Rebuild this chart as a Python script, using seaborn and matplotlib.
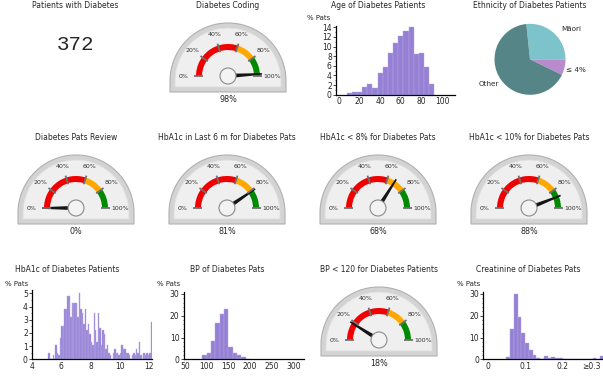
import numpy as np
import pandas as pd
import matplotlib
matplotlib.use('Agg')
import matplotlib.pyplot as plt
from matplotlib.patches import Wedge, Polygon, Circle
from matplotlib.ticker import MultipleLocator
import seaborn as sns

sns.set_style('ticks')
plt.rcParams['font.family'] = ['DejaVu Sans']

W, H = 603, 388

# ---- data ----
n_patients = 372

gauge_titles = ['Diabetes Coding', 'Diabetes Pats Review', 'HbA1c in Last 6 m for Diabetes Pats',
                'HbA1c < 8% for Diabetes Pats', 'HbA1c < 10% for Diabetes Pats',
                'BP < 120 for Diabetes Patients']
gauge_values = [98, 0, 81, 68, 88, 18]
gauge_ticks = [0, 20, 40, 60, 80, 100]

age_start, age_width = 7.5, 5
age_pct = [0.3, 0.6, 0.6, 1.6, 2.2, 1.3, 4.6, 5.7, 8.7, 10.8, 12.2, 13.2, 14.0, 8.5, 8.7, 5.7, 2.2]

hba1c_start, hba1c_width = 5.1, 0.1
hba1c_pct = [0.5, 0, 0, 0.3, 0, 1.1, 0.5, 0.3, 1.6, 2.5,
             2.5, 3.8, 3.8, 4.8, 4.8, 3.2, 4.3, 4.3, 4.3, 4.3,
             3.2, 5.0, 3.8, 3.5, 2.7, 3.8, 2.2, 2.7, 1.9, 1.3,
             1.1, 3.5, 2.2, 1.3, 3.5, 2.4, 1.1, 2.2, 1.9, 0.8,
             1.1, 0.5, 0.3, 0, 0.5, 0.8, 0.5, 0.5, 0.3, 0.5,
             1.1, 0.8, 0.8, 0.5, 0.5, 0.3, 0, 0.3, 0.5, 0.3,
             0.8, 0.5, 1.3, 0.3, 0, 0.5, 0.3, 0.5, 0.3, 0.5, 2.8]

bp_start, bp_width = 90, 10
bp_pct = [1.8, 3.0, 8.3, 16.8, 20.6, 23.0, 5.7, 3.0, 2.1, 1.0, 0.3]

creat_start, creat_width = 0.05, 0.01
creat_pct = [1.0, 14.0, 30.0, 19.4, 12.3, 7.7, 4.2, 1.8, 0.6, 0.3, 1.5, 0.5, 1.1, 0.8,
             0.8, 0, 0, 0, 0, 0, 0, 0, 0, 0.8, 0, 1.6]

eth_labels = ['Māori', '≤ 4%', 'Other']
eth_pct = [26.7, 7.2, 66.1]
eth_colors = ['#7dc3cb', '#b98bcc', '#558587']

bar_color = '#9580d4'

fig = plt.figure(figsize=(W / 100, H / 100), dpi=100)
fig.patch.set_facecolor('white')

# overlay axes in pixel units (y up)
bg = fig.add_axes([0, 0, 1, 1])
bg.set_xlim(0, W)
bg.set_ylim(0, H)
bg.axis('off')


def txt(x, y, s, size=5.5, **kw):
    bg.text(x, H - y, s, fontsize=size, ha=kw.pop('ha', 'center'), va=kw.pop('va', 'center'), **kw)


def dial(cx, yc, r, dy, below):
    th = np.linspace(0, np.pi, 80)
    pts = list(zip(cx + r * np.cos(th), yc - dy + r * np.sin(th)))
    pts += [(cx - r, yc - below), (cx + r, yc - below)]
    return pts


def gauge(cx, cy, value, title):
    yc = H - cy
    bg.add_patch(Polygon(dial(cx, yc, 58, 5, 16), closed=True, fc='#d3d3d3', ec='#b0b0b0', lw=0.8))
    bg.add_patch(Polygon(dial(cx, yc, 53, 5, 11), closed=True, fc='#efefef', ec='#dedede', lw=0.6))
    bg.add_patch(Wedge((cx, yc), 32, 72, 180, width=6, fc='#f00000', ec='none'))
    bg.add_patch(Wedge((cx, yc), 32, 36, 72, width=6, fc='#ffa800', ec='none'))
    bg.add_patch(Wedge((cx, yc), 32, 0, 36, width=6, fc='#008a00', ec='none'))
    for t in gauge_ticks:
        a = np.pi * (1 - t / 100)
        bg.plot([cx + 25 * np.cos(a), cx + 34 * np.cos(a)], [yc + 25 * np.sin(a), yc + 34 * np.sin(a)],
                color='#707070', lw=1.3, solid_capstyle='butt')
        lx, ly = cx + 44 * np.cos(a), yc + 44 * np.sin(a)
        bg.text(lx, ly, f'{t}%', fontsize=4.5, color='#333333', ha='center', va='center')
    a = np.pi * (1 - value / 100)
    ux, uy = np.cos(a), np.sin(a)
    px, py = -uy, ux
    tip = (cx + 34 * ux, yc + 34 * uy)
    needle = [(cx + 2.2 * px, yc + 2.2 * py), (tip[0] + 0.8 * px, tip[1] + 0.8 * py),
              (tip[0] - 0.8 * px, tip[1] - 0.8 * py), (cx - 2.2 * px, yc - 2.2 * py)]
    bg.add_patch(Polygon(needle, closed=True, fc='#151515', ec='none'))
    bg.add_patch(Circle((cx, yc), 8, fc='#f3f3f3', ec='#8a8a8a', lw=0.8))
    txt(cx, cy - 70.5, title)
    txt(cx, cy + 23.5, f'{value}%', size=5.8)


gauge_pos = [(228, 76), (76, 208), (227, 208), (378, 208), (529, 208), (379, 340)]
for (gx, gy), v, t in zip(gauge_pos, gauge_values, gauge_titles):
    gauge(gx, gy, v, t)

# big number
txt(75, 6, 'Patients with Diabetes')
txt(75, 44, str(n_patients), size=15, family='Liberation Mono')


def hist(rect, start, width, pct, xlim, ylim, xticks, yticks, minor, xticklabels=None):
    l, t, r, b = rect
    ax = fig.add_axes([l / W, 1 - b / H, (r - l) / W, (b - t) / H])
    ax.patch.set_alpha(0)
    n = len(pct)
    df = pd.DataFrame({'x': start + width * (np.arange(n) + 0.5), 'w': pct})
    sns.histplot(data=df, x='x', weights='w', binwidth=width, binrange=(start, start + n * width),
                 ax=ax, color=bar_color, alpha=1, edgecolor='#b6a8e6', linewidth=0.3)
    ax.set_xlim(*xlim)
    ax.set_ylim(*ylim)
    ax.set_xticks(xticks)
    if xticklabels:
        ax.set_xticklabels(xticklabels)
    ax.set_yticks(yticks)
    ax.yaxis.set_minor_locator(MultipleLocator(minor))
    ax.set_xlabel('')
    ax.set_ylabel('')
    sns.despine(ax=ax)
    for s in ['left', 'bottom']:
        ax.spines[s].set_color('black')
        ax.spines[s].set_linewidth(0.9)
    ax.tick_params(axis='x', length=0, pad=2, labelsize=5.5)
    ax.tick_params(axis='y', which='major', length=2, width=0.6, pad=1, labelsize=5.5)
    ax.tick_params(axis='y', which='minor', length=1, width=0.5)
    return ax


hist((336, 26, 455, 94.7), age_start, age_width, age_pct, (-2.9, 112.6), (0, 14.27),
     [0, 20, 40, 60, 80, 100], range(0, 15, 2), 1)
txt(378, 5, 'Age of Diabetes Patients')
txt(307, 18, '% Pats', size=5, ha='left')

hist((32, 290, 152, 359.3), hba1c_start, hba1c_width, hba1c_pct, (4.05, 12.19), (0, 5.25),
     [4, 6, 8, 10, 12], range(0, 6), 0.5)
txt(67, 270, 'HbA1c of Diabetes Patients')
txt(5, 284, '% Pats', size=5, ha='left')

hist((183.5, 292, 304, 359.3), bp_start, bp_width, bp_pct, (46.5, 324.8), (0, 30.9),
     [50, 100, 150, 200, 250, 300], [0, 10, 20, 30], 2)
txt(227, 270, 'BP of Diabetes Pats')
txt(157, 284, '% Pats', size=5, ha='left')

cax = hist((483.3, 292, 603, 359.3), creat_start, creat_width, creat_pct, (-0.0117, 0.3075), (0, 30.9),
           [0, 0.1, 0.2, 0.3], [0, 10, 20, 30], 2, ['0', '0.1', '0.2', '≥0.3'])
cax.get_xticklabels()[-1].set_horizontalalignment('right')
txt(528, 270, 'Creatinine of Diabetes Pats')
txt(457, 284, '% Pats', size=5, ha='left')

# pie
pr = 35.5
pax = fig.add_axes([(530 - pr) / W, 1 - (59.3 + pr) / H, 2 * pr / W, 2 * pr / H])
pax.pie(eth_pct, colors=eth_colors, startangle=96, counterclock=False, radius=1,
        wedgeprops=dict(linewidth=0))
pax.set_xlim(-1, 1)
pax.set_ylim(-1, 1)
txt(530, 6, 'Ethnicity of Diabetes Patients')
txt(571.5, 29, eth_labels[0], size=5.2)
txt(576, 70, eth_labels[1], size=5.2)
txt(489, 84, eth_labels[2], size=5.2)

fig.savefig('out.png', dpi=100, facecolor='white')
